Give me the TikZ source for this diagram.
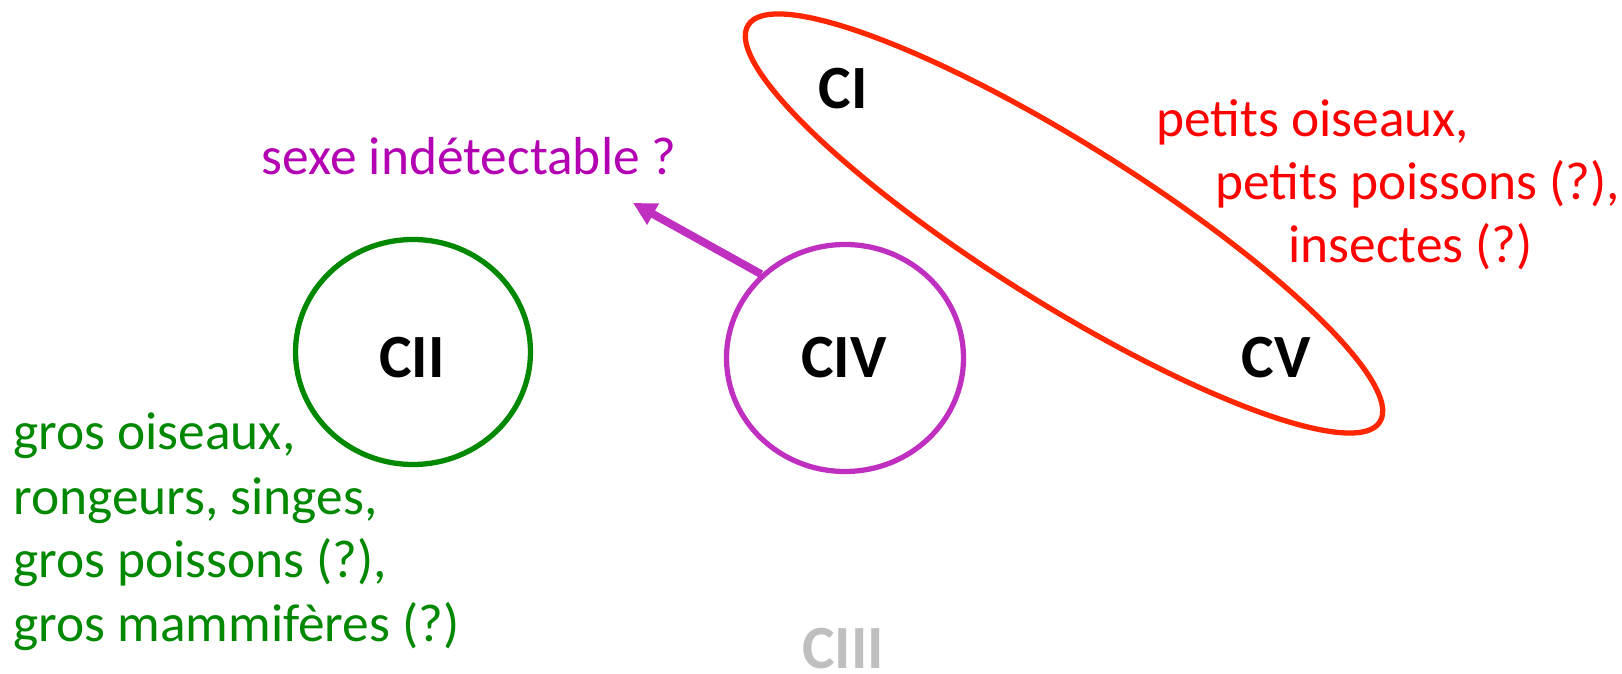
\documentclass[tikz,border=0pt]{standalone}
\usepackage{fontspec}
\setmainfont{Carlito}
\usetikzlibrary{shapes.geometric,arrows.meta,positioning}

\definecolor{grn}{RGB}{0,136,0}
\definecolor{plum}{RGB}{192,48,192}
\definecolor{plumtxt}{RGB}{178,0,178}
\definecolor{redring}{RGB}{255,38,0}
\definecolor{redtxt}{RGB}{255,0,0}
\definecolor{ghost}{RGB}{191,191,191}

\tikzset{
  ring/.style={draw, ellipse, line width=3pt, inner sep=0pt},
  clab/.style={font=\fontsize{35}{42}\selectfont\bfseries, inner sep=0pt},
  txt/.style={font=\fontsize{30.4}{36}\selectfont, anchor=base west, inner sep=0pt}
}

\begin{document}
\begin{tikzpicture}
\useasboundingbox (0,0) rectangle (32.44,13.48);
% circles
\node[ring, draw=grn, minimum width=4.7cm, minimum height=4.5cm] (cII) at (8.26,6.44) {};
\node[ring, draw=plum, minimum width=4.74cm, minimum height=4.54cm] (cIV) at (16.9,6.32) {};
\node[ring, draw=redring, rotate=-32.13, minimum width=14.92cm, minimum height=3.18cm] (grp) at (21.28,9.01) {};
% labels
\node[clab] (lII) at (8.24,6.32) {CII};
\node[clab] (lIV) at (16.88,6.32) {CIV};
\node[clab] (lI) at (16.86,11.7) {CI};
\node[clab] (lV) at (25.52,6.32) {CV};
\node[clab, text=ghost] (lIII) at (16.86,0.5) {CIII};
% arrow
\coordinate (tip) at (12.66,9.42);
\draw[plum, line width=4.5pt, -{Triangle[length=0.46cm, width=0.46cm]}] (cIV.135) -- (tip);
\node[txt, text=plumtxt] (sexe) at (5.23,9.98) {sexe indétectable ?};
% red text
\node[txt, text=redtxt] (r1) at (23.12,10.74) {petits oiseaux,};
\node[txt, text=redtxt] (r2) at (24.3,9.48) {petits poissons (?),};
\node[txt, text=redtxt] (r3) at (25.76,8.22) {insectes (?)};
% green text
\node[txt, text=grn] (g1) at (0.26,4.48) {gros oiseaux,};
\node[txt, text=grn] (g2) at (0.26,3.18) {rongeurs, singes,};
\node[txt, text=grn] (g3) at (0.26,1.92) {gros poissons (?),};
\node[txt, text=grn] (g4) at (0.26,0.64) {gros mammifères (?)};
\end{tikzpicture}
\end{document}
